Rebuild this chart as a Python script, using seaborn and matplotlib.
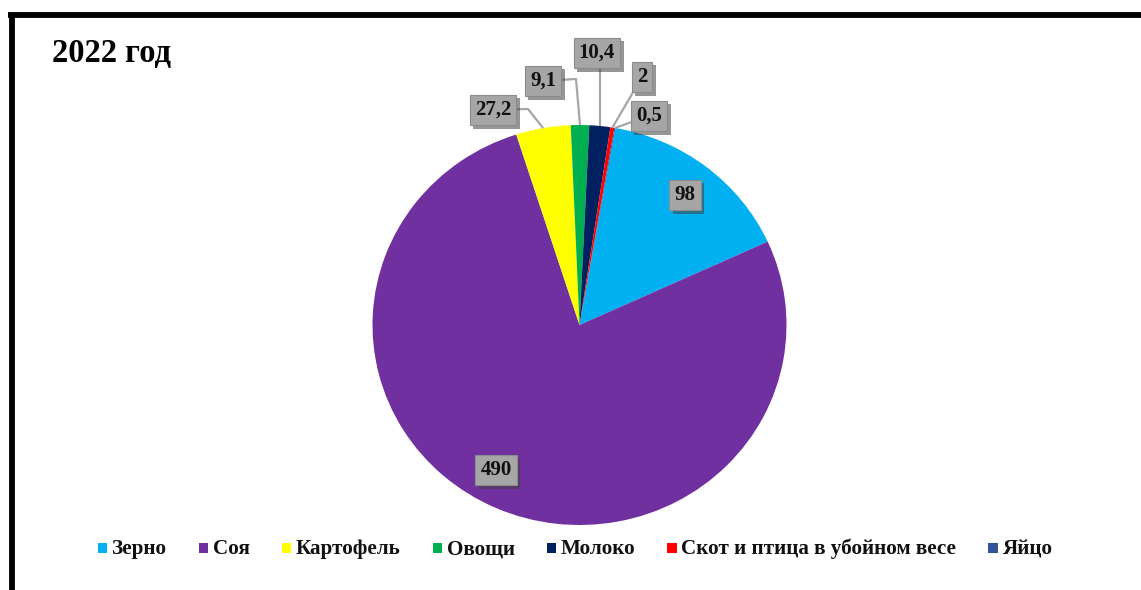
import matplotlib
matplotlib.use("Agg")
import matplotlib.pyplot as plt
import matplotlib.patheffects as pe
from matplotlib.lines import Line2D
from matplotlib.patches import Rectangle
import numpy as np
import seaborn as sns

# Production structure, 2022
categories = ["Зерно", "Соя", "Картофель", "Овощи", "Молоко",
              "Скот и птица в убойном весе", "Яйцо"]
values = [98, 490, 27.2, 9.1, 10.4, 2, 0.5]
colors = ["#00B0F0", "#7030A0", "#FFFF00", "#00B050", "#002060",
          "#FF0000", "#2F5597"]
title = "2022 год"

sns.set_theme(style="white")
plt.rcParams["font.family"] = ["Liberation Serif", "DejaVu Serif"]
plt.rcParams["font.weight"] = "bold"

W, H = 1141, 590
fig = plt.figure(figsize=(W / 100, H / 100), dpi=100)
fig.patch.set_facecolor("white")

# pie occupies a box of 414 x 400 px centred at (579.5, 325)
cx, cy, rx, ry = 579.5, 325, 207, 200
ax = fig.add_axes([(cx - rx) / W, (H - cy - ry) / H, 2 * rx / W, 2 * ry / H])
palette = sns.color_palette(colors)
start = 90 - 10
wedges, _ = ax.pie(values, colors=palette, startangle=start,
                   counterclock=False, radius=1.0,
                   wedgeprops=dict(linewidth=0))
ax.set_aspect("auto")
ax.set_xlim(-1, 1)
ax.set_ylim(-1, 1)
ax.axis("off")


def px2d(px, py):
    return ((px - cx) / rx, (cy - py) / ry)


def fmt(v):
    s = f"{v:g}"
    return s.replace(".", ",")


# anchor on wedge edge at its mid angle
total = float(sum(values))
mids = []
acc = 0.0
for v in values:
    mid_deg = start - (acc + v / 2) / total * 360
    mids.append(np.deg2rad(mid_deg))
    acc += v

# label box centres and optional elbows (pixel layout)
label_pos = [(685, 195), (496, 470), (493, 110), (543, 81), (597, 53),
             (642, 77), (649, 116)]
elbows = [None, None, (528, 109), (576, 79), "vertical", None, None]
leader = [False, False, True, True, True, True, True]

shadow = [pe.SimplePatchShadow(offset=(2.5, -2.5), shadow_rgbFace="#404040",
                               alpha=0.55), pe.Normal()]

for i, v in enumerate(values):
    bx, by = px2d(*label_pos[i])
    if leader[i]:
        axx, ayy = np.cos(mids[i]) * 1.0, np.sin(mids[i]) * 1.0
        if elbows[i] == "vertical":
            xs, ys = [axx, axx, bx], [ayy, by, by]
        elif elbows[i] is not None:
            ex, ey = px2d(*elbows[i])
            xs, ys = [axx, ex, bx], [ayy, ey, by]
        else:
            xs, ys = [axx, bx], [ayy, by]
        ax.plot(xs, ys, color="#A6A6A6", lw=1.6, zorder=3, clip_on=False,
                solid_capstyle="butt")
    t = ax.text(bx, by, fmt(v), ha="center", va="center", fontsize=15,
                fontweight="bold", color="#111111", zorder=5, clip_on=False,
                bbox=dict(boxstyle="square,pad=0.25", fc="#A6A6A6",
                          ec="#8C8C8C", lw=0.8))
    t.get_bbox_patch().set_path_effects(shadow)

# title
fig.text(52 / W, 1 - 53 / H, title, ha="left", va="center", fontsize=23.5,
         fontweight="bold", color="black")

# legend row: square key + label, entries laid out on one baseline
renderer = fig.canvas.get_renderer()
key, key_gap, entry_gap = 9.5, 4.5, 32
baseline_y, key_cy = 554, 548
leg_fs = 15.2
texts = []
widths = []
for name in categories:
    t = fig.text(0, 1 - baseline_y / H, name, ha="left", va="baseline",
                 fontsize=leg_fs, fontweight="bold", color="#111111")
    texts.append(t)
    widths.append(t.get_window_extent(renderer).width)
row_w = sum(key + key_gap + w for w in widths) + entry_gap * (len(widths) - 1)
x = 575 - row_w / 2
for t, w, c in zip(texts, widths, colors):
    fig.add_artist(Rectangle((x / W, 1 - (key_cy + key / 2) / H), key / W,
                             key / H, transform=fig.transFigure,
                             facecolor=c, edgecolor="none"))
    t.set_x((x + key + key_gap) / W)
    x += key + key_gap + w + entry_gap

# frame lines: top and left
fig.add_artist(Line2D([8 / W, 1], [1 - 15 / H, 1 - 15 / H], color="black",
                      lw=4.2, transform=fig.transFigure,
                      solid_capstyle="butt"))
fig.add_artist(Line2D([11.5 / W, 11.5 / W], [1 - 12.5 / H, 0], color="black",
                      lw=4.2, transform=fig.transFigure,
                      solid_capstyle="butt"))

fig.savefig("out.png", dpi=100, facecolor="white")
